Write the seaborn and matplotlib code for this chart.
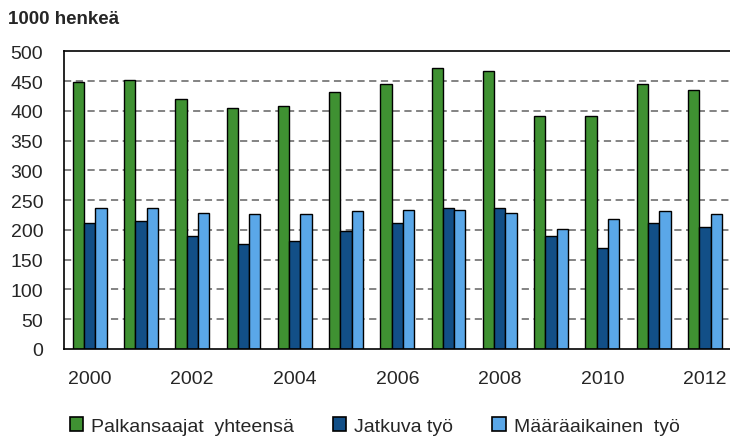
import numpy as np
import pandas as pd
import matplotlib
matplotlib.use("Agg")
import matplotlib.pyplot as plt
import seaborn as sns

# Vuodet ja sarjat (1000 henkeä), luettu kuvasta
vuodet = [2000, 2001, 2002, 2003, 2004, 2005, 2006, 2007, 2008, 2009, 2010, 2011, 2012]
yhteensa = [449, 451, 419, 405, 408, 432, 445, 472, 467, 391, 391, 445, 435]
jatkuva = [211, 214, 189, 176, 181, 198, 211, 237, 237, 189, 170, 211, 205]
maaraaikainen = [237, 237, 229, 226, 226, 232, 234, 234, 229, 202, 218, 232, 226]

sarjat = ["Palkansaajat  yhteensä", "Jatkuva työ", "Määräaikainen  työ"]
varit = ["#3f9132", "#124f87", "#5aa7e8"]

df = pd.DataFrame({
    "vuosi": vuodet * 3,
    "arvo": yhteensa + jatkuva + maaraaikainen,
    "sarja": [sarjat[0]] * 13 + [sarjat[1]] * 13 + [sarjat[2]] * 13,
})

sns.set_style("white")
plt.rcParams["font.family"] = ["Liberation Sans", "DejaVu Sans"]

fig = plt.figure(figsize=(7.3, 4.39), dpi=100)
ax = fig.add_axes([0.0877, 0.203, 0.913, 0.678])

sns.barplot(data=df, x="vuosi", y="arvo", hue="sarja", palette=varit,
            width=0.66, edgecolor="black", linewidth=1.0, saturation=1,
            ax=ax, legend=True)

ax.set_ylim(0, 500)
ax.set_xlim(-0.5, 12.5)
ax.set_yticks(np.arange(0, 501, 50))
ax.set_yticklabels([str(v) for v in range(0, 501, 50)], fontsize=14)
ax.set_xticks(range(0, 13, 2))
ax.set_xticklabels([str(vuodet[i]) for i in range(0, 13, 2)], fontsize=14)
ax.set_xticks(np.arange(-0.5, 13, 1), minor=True)
ax.tick_params(axis="x", which="major", length=0, pad=15)
ax.tick_params(axis="x", which="minor", length=5, width=1, color="black", direction="out")
ax.tick_params(axis="y", length=5, width=1, color="black", direction="out", pad=10)
ax.set_xlabel("")
ax.set_ylabel("")

for y in range(50, 500, 50):
    ax.axhline(y, color="#7a7a7a", linestyle=(0, (4, 2.5)), linewidth=1.3, zorder=0)
for s in ["left", "top", "bottom"]:
    ax.spines[s].set_visible(True)
    ax.spines[s].set_color("black")
    ax.spines[s].set_linewidth(1.2)
ax.spines["right"].set_visible(False)

fig.text(0.011, 0.955, "1000 henkeä", fontsize=13.5, fontweight="bold", va="center")

ax.get_legend().remove()
kahvat = [plt.Rectangle((0, 0), 1, 1, facecolor=c, edgecolor="black", linewidth=1.2) for c in varit]
fig.legend(kahvat, sarjat, loc="center", bbox_to_anchor=(0.513, 0.027), ncol=3,
           frameon=False, fontsize=14, handlelength=0.7, handleheight=0.7,
           handletextpad=0.4, columnspacing=2.0)

fig.savefig("out.png", dpi=100)
